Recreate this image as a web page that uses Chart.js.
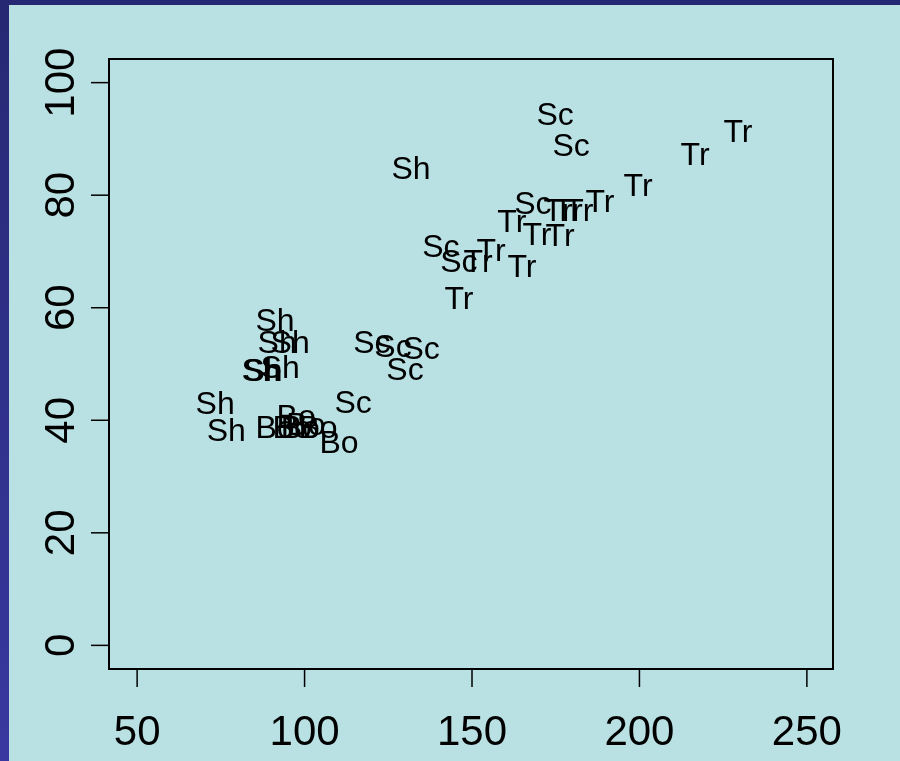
<!DOCTYPE html>
<html lang="en">
<head>
  <meta charset="UTF-8" />
  <title>Scatter with text labels</title>
  <script src="https://cdn.jsdelivr.net/npm/chart.js"></script>
  <style>
    html, body { margin: 0; padding: 0; background: #2b2b80; }
    #wrap { width: 900px; height: 761px; position: relative; }
  </style>
</head>
<body>
  <div id="wrap"><canvas id="chart" width="900" height="761"></canvas></div>
  <script>
    // values
    const trX = [229.4, 216.6, 199.6, 188.2, 181.9, 178.7, 175.7, 161.9, 169.4, 176.3, 155.7, 151.8, 164.9, 146.1];
    const trY = [91.1, 87.0, 81.5, 78.5, 76.9, 76.9, 76.9, 75.1, 72.8, 72.5, 69.8, 67.9, 67.1, 61.3];
    const scX = [174.8, 179.6, 168.2, 140.7, 146.1, 120.1, 126.4, 134.8, 130.0, 114.5];
    const scY = [94.1, 88.5, 78.2, 70.5, 68.0, 53.6, 52.8, 52.4, 48.7, 42.8];
    const shX = [131.8, 91.2, 91.8, 95.7, 87.0, 87.6, 92.7, 73.3, 76.6];
    const shY = [84.4, 57.4, 53.6, 53.6, 48.5, 48.5, 49.0, 42.6, 37.8];
    const boX = [91.2, 97.5, 96.3, 98.7, 100.4, 104.0, 110.3];
    const boY = [38.5, 40.3, 38.5, 38.5, 38.9, 38.5, 35.7];

    const xTicks = [50, 100, 150, 200, 250];
    const yTicks = [0, 20, 40, 60, 80, 100];

    const toPoints = (xs, ys) => xs.map((x, i) => ({ x: x, y: ys[i] }));

    const FONT = '"Liberation Sans", Arial, Helvetica, sans-serif';

    // background, box, axes and the text marks
    const rPlot = {
      id: 'rPlot',
      beforeDraw(chart) {
        const ctx = chart.ctx;
        const g = ctx.createLinearGradient(0, 0, 0, chart.height);
        g.addColorStop(0, '#272873');
        g.addColorStop(1, '#3838a0');
        ctx.save();
        ctx.fillStyle = g;
        ctx.fillRect(0, 0, chart.width, chart.height);
        ctx.fillStyle = '#b9e0e3';
        ctx.fillRect(9, 5, chart.width - 9, chart.height - 5);
        ctx.restore();
      },
      afterDraw(chart) {
        const ctx = chart.ctx;
        const a = chart.chartArea;
        const xs = chart.scales.x, ys = chart.scales.y;
        ctx.save();
        ctx.strokeStyle = '#000';
        ctx.lineWidth = 2;
        ctx.strokeRect(a.left, a.top, a.right - a.left, a.bottom - a.top);

        ctx.lineWidth = 1.5;
        ctx.fillStyle = '#000';
        ctx.font = '42px ' + FONT;
        ctx.textAlign = 'center';
        ctx.textBaseline = 'alphabetic';
        xTicks.forEach(v => {
          const px = xs.getPixelForValue(v);
          ctx.beginPath();
          ctx.moveTo(px, a.bottom);
          ctx.lineTo(px, a.bottom + 18);
          ctx.stroke();
          ctx.fillText(String(v), px, 745);
        });
        yTicks.forEach(v => {
          const py = ys.getPixelForValue(v);
          ctx.beginPath();
          ctx.moveTo(a.left, py);
          ctx.lineTo(a.left - 18, py);
          ctx.stroke();
          ctx.save();
          ctx.translate(74, py);
          ctx.rotate(-Math.PI / 2);
          ctx.fillText(String(v), 0, 0);
          ctx.restore();
        });
        ctx.restore();
      },
      afterDatasetsDraw(chart) {
        const ctx = chart.ctx;
        ctx.save();
        ctx.fillStyle = '#000';
        ctx.font = '32px ' + FONT;
        ctx.textAlign = 'center';
        ctx.textBaseline = 'middle';
        chart.data.datasets.forEach((ds, i) => {
          chart.getDatasetMeta(i).data.forEach(pt => {
            ctx.fillText(ds.label, pt.x, pt.y);
          });
        });
        ctx.restore();
      }
    };

    new Chart(document.getElementById('chart'), {
      type: 'scatter',
      data: {
        datasets: [
          { label: 'Tr', data: toPoints(trX, trY) },
          { label: 'Sc', data: toPoints(scX, scY) },
          { label: 'Sh', data: toPoints(shX, shY) },
          { label: 'Bo', data: toPoints(boX, boY) }
        ]
      },
      options: {
        responsive: false,
        animation: false,
        layout: { padding: { left: 9, top: 59, right: 67, bottom: 0 } },
        elements: { point: { radius: 0, hoverRadius: 0 } },
        plugins: { legend: { display: false }, tooltip: { enabled: false } },
        scales: {
          x: {
            type: 'linear', min: 41.6, max: 257.8,
            grid: { display: false }, border: { display: false },
            ticks: { display: false },
            afterFit(s) { s.height = 92; }
          },
          y: {
            type: 'linear', min: -4.2, max: 104.2,
            grid: { display: false }, border: { display: false },
            ticks: { display: false },
            afterFit(s) { s.width = 100; }
          }
        }
      },
      plugins: [rPlot]
    });
  </script>
</body>
</html>
